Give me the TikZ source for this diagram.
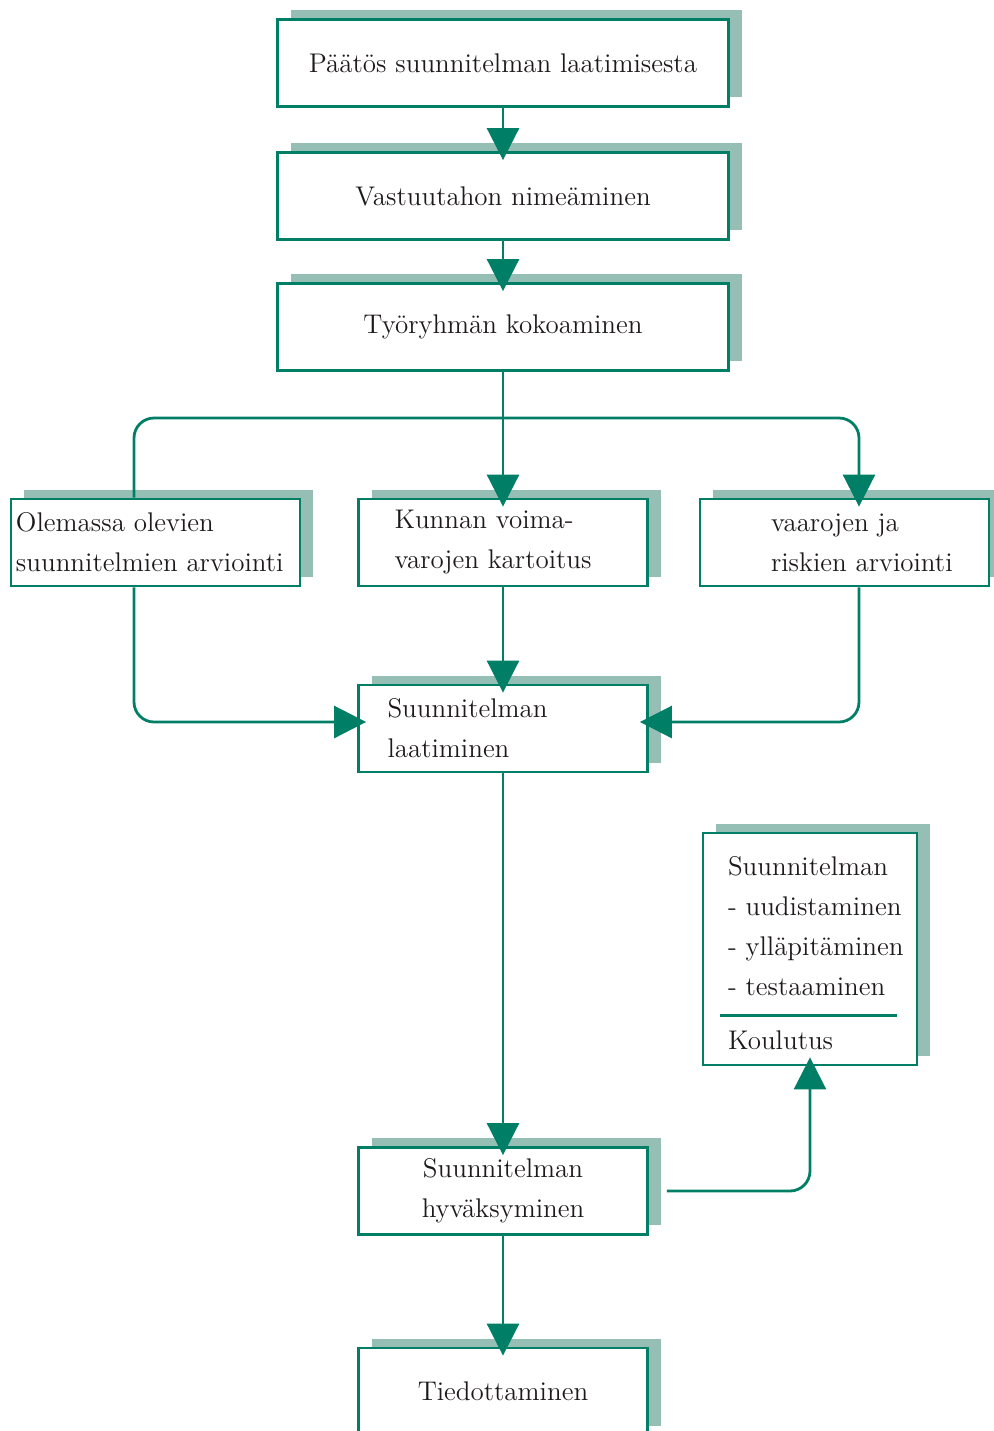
\documentclass[tikz,border=0pt]{standalone}
\usepackage{tikz}
\usetikzlibrary{positioning,arrows.meta,shadows}
\definecolor{LineGreen}{HTML}{007F66}
\definecolor{ShadowGreen}{HTML}{95BFB4}
\definecolor{TextGray}{HTML}{1E1A1B}
\newcommand{\boxfont}{\fontsize{13.5}{20}\selectfont}

\begin{document}
\begin{tikzpicture}[x=0.5pt,y=-0.5pt,
    stepbox/.style={draw=LineGreen, line width=1.4pt, fill=white, inner sep=0pt,
      minimum width=144.5pt, minimum height=43.5pt, font=\boxfont, text=TextGray, align=center,
      drop shadow={shadow xshift=6.5pt, shadow yshift=4.75pt, fill=ShadowGreen, opacity=1, draw=none}},
    widebox/.style={stepbox, minimum width=225.5pt},
    boxtext/.style={anchor=west, inner sep=0pt, font=\boxfont, text=TextGray, align=left},
    flow/.style={draw=LineGreen, line width=1.4pt, rounded corners=10pt},
    arrow/.style={flow, -{Triangle[width=16pt,length=16pt]}, shorten >=-4.5pt}]
      \useasboundingbox (0,0) rectangle (994,1431);

      % Start of the process
      \node[widebox] (decision) at (503,63) {Päätös suunnitelman laatimisesta};
      \node[widebox] (resp) at (503,196) {Vastuutahon nimeäminen};
      \node[widebox] (team) at (503,327) {Työryhmän kokoaminen};
      \coordinate (split) at (503,418);

      % Three parallel tasks
      \node[stepbox] (review) at (155.5,542.5) {};
      \node[boxtext] (reviewtxt) at ([xshift=3pt]review.west) {Olemassa olevien\\suunnitelmien arviointi};
      \node[stepbox] (res) at (503,542.5) {};
      \node[boxtext] (restxt) at ([xshift=18.5pt]res.west) {Kunnan voima-\\varojen kartoitus};
      \node[stepbox] (risk) at (844.5,542.5) {};
      \node[boxtext] (risktxt) at ([xshift=36pt]risk.west) {vaarojen ja\\riskien arviointi};

      % Drafting
      \node[stepbox] (draft) at (503,728.5) {};
      \node[boxtext] (drafttxt) at ([xshift=15pt]draft.west) {Suunnitelman\\laatiminen};

      % Upkeep box
      \node[stepbox, minimum width=107pt, minimum height=116pt] (upkeep) at (810,949) {};
      \node[boxtext] (upkeeptxt) at ([shift={(13pt,11.5pt)}]upkeep.west) {Suunnitelman\\- uudistaminen\\- ylläpitäminen\\- testaaminen};
      \node[boxtext] (training) at ([shift={(13pt,-45.5pt)}]upkeep.west) {Koulutus};
      \draw[LineGreen, line width=1.4pt] ([shift={(9pt,25.5pt)}]upkeep.south west) -- ([shift={(-10.5pt,25.5pt)}]upkeep.south east);

      % Approval and informing
      \node[stepbox] (approve) at (503,1191) {Suunnitelman\\hyväksyminen};
      \node[stepbox] (inform) at (503,1391.5) {Tiedottaminen};

      % Connectors
      \draw[arrow] (decision.south) -- (resp.north);
      \draw[arrow] (resp.south) -- (team.north);
      \draw[arrow] (team.south) -- (res.north);
      \draw[arrow] ([xshift=-10.75pt]review.north) |- (split) -| ([xshift=7.25pt]risk.north);
      \draw[arrow] ([xshift=-10.75pt]review.south) |- ([yshift=3.25pt]draft.west);
      \draw[arrow] ([xshift=7.25pt]risk.south) |- ([yshift=3.25pt]draft.east);
      \draw[arrow] (res.south) -- (draft.north);
      \draw[arrow] (draft.south) -- (approve.north);
      \draw[arrow] (approve.south) -- (inform.north);
      \draw[arrow] ([xshift=9pt]approve.east) -| (upkeep.south);

    \end{tikzpicture}
\end{document}
